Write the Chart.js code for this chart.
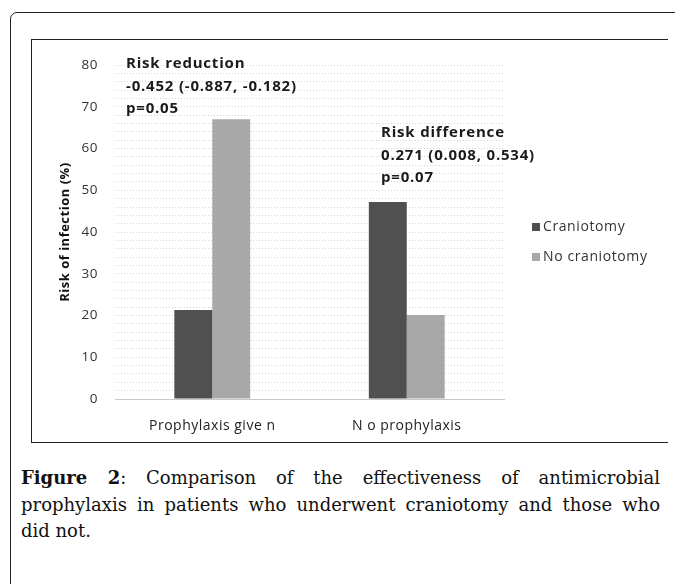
<!DOCTYPE html>
<html>
<head>
<meta charset="utf-8">
<script src="https://cdn.jsdelivr.net/npm/chart.js@4.4.0/dist/chart.umd.min.js"></script>
<style>
  body { margin: 0; background: #fff; width: 675px; height: 584px; overflow: hidden; position: relative; }
  #outer { position: absolute; left: 10px; top: 12px; width: 700px; height: 620px;
    border: 1.5px solid #222; border-radius: 7px; }
  #inner { position: absolute; left: 31px; top: 39px; width: 636px; height: 402px;
    border-top: 1.5px solid #222; border-left: 1.5px solid #222; border-bottom: 1.5px solid #222; }
  #chart { position: absolute; left: 0; top: 0; }
  #caption { position: absolute; left: 21px; top: 465px; width: 639px;
    font-family: "DejaVu Serif", "Liberation Serif", serif; font-size: 18px; color: #111; line-height: 26.5px; }
  #caption .j { text-align: justify; text-align-last: justify; }
</style>
</head>
<body>
<div id="outer"></div>
<div id="inner"><canvas id="chart" width="636" height="402"></canvas></div>
<div id="caption">
  <div class="j"><b>Figure 2</b>: Comparison of the effectiveness of antimicrobial</div>
  <div class="j">prophylaxis in patients who underwent craniotomy and those who</div>
  <div>did not.</div>
</div>
<script>
const categories = ['Prophylaxis give n', 'N o prophylaxis'];
const seriesNames = ['Craniotomy', 'No craniotomy'];
const craniotomy = [21.3, 47.2];
const noCraniotomy = [67.0, 20.1];
const seriesColors = ['#505050', '#a8a8a8'];
const yTicks = [0, 10, 20, 30, 40, 50, 60, 70, 80];
const noteLeft = ['Risk reduction', '-0.452 (-0.887, -0.182)', 'p=0.05'];
const noteRight = ['Risk difference', '0.271 (0.008, 0.534)', 'p=0.07'];

const fontFamily = '"Open Sans", Lato, sans-serif';

// notes and legend drawn on top of the chart
const extras = {
  id: 'extras',
  beforeDraw(chart) {
    // the original text is set quite loose
    chart.ctx.letterSpacing = '0.5px';
  },
  afterDraw(chart) {
    const ctx = chart.ctx;
    ctx.save();
    ctx.textBaseline = 'middle';
    ctx.textAlign = 'left';
    ctx.fillStyle = '#1a1a1a';
    ctx.letterSpacing = '0.8px';
    ctx.font = 'bold 15px ' + fontFamily;
    noteLeft.forEach((t, i) => ctx.fillText(t, 94, 24 + i * 22.5));
    noteRight.forEach((t, i) => ctx.fillText(t, 349, 93 + i * 22.5));

    ctx.letterSpacing = '0.6px';
    ctx.font = '14px ' + fontFamily;
    chart.data.datasets.forEach((ds, i) => {
      const y = 187 + i * 30;
      ctx.fillStyle = ds.backgroundColor;
      ctx.fillRect(500, y - 4, 8, 8);
      ctx.fillStyle = '#333';
      ctx.fillText(ds.label, 511, y);
    });
    ctx.restore();
  }
};

new Chart(document.getElementById('chart'), {
  type: 'bar',
  data: {
    labels: categories,
    datasets: [
      { label: seriesNames[0], data: craniotomy, backgroundColor: seriesColors[0] },
      { label: seriesNames[1], data: noCraniotomy, backgroundColor: seriesColors[1] }
    ]
  },
  options: {
    responsive: false,
    animation: false,
    devicePixelRatio: 1,
    categoryPercentage: 0.39,
    barPercentage: 1,
    layout: { padding: { left: 20, top: 20, right: 164, bottom: 0 } },
    plugins: { legend: { display: false }, tooltip: { enabled: false } },
    scales: {
      x: {
        grid: { display: false },
        border: { display: true, color: '#c8c8c8', width: 1 },
        ticks: { color: '#222', font: { family: fontFamily, size: 14 }, padding: 11 },
        afterFit: s => { s.height = 43; }
      },
      y: {
        min: 0,
        max: 80,
        afterBuildTicks: s => {
          const t = [];
          for (let v = 0; v <= 80; v += 2) t.push({ value: v });
          s.ticks = t;
        },
        ticks: {
          color: '#333',
          font: { family: fontFamily, size: 13.5 },
          padding: 17,
          autoSkip: false,
          callback: v => yTicks.includes(v) ? String(v) : ''
        },
        grid: { color: '#d4d4d4', lineWidth: 1, drawTicks: false },
        border: { display: false, dash: [1, 2] },
        title: {
          display: true,
          text: 'Risk of infection (%)',
          color: '#111',
          font: { family: fontFamily, size: 13, weight: 'bold' },
          padding: { top: 5, bottom: 0 }
        },
        afterFit: s => { s.width = 63; }
      }
    }
  },
  plugins: [extras]
});
</script>
</body>
</html>
